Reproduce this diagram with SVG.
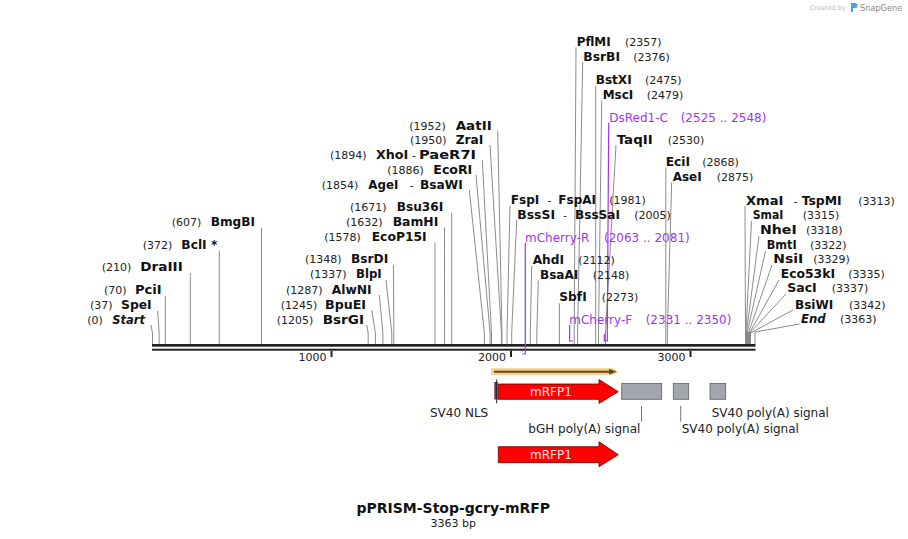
<svg xmlns="http://www.w3.org/2000/svg" width="908" height="539" viewBox="0 0 908 539">
<style>
text{font-family:"DejaVu Sans",Verdana,sans-serif}
.n{font-size:11px;fill:#222}
.b{font-size:12px;font-weight:bold;fill:#111}
.bi{font-size:12px;font-weight:bold;font-style:italic;fill:#111}
.d{font-size:11px;fill:#222}
.p{font-size:12px;fill:#a334e8}
.f{font-size:12px;fill:#222}
.cl{fill:none;stroke:#8c8c8c;stroke-width:1}
.pl{fill:none;stroke:#a334e8;stroke-width:1.2}
.ld{fill:none;stroke:#777;stroke-width:1}
.gray{fill:#a2a6ad;stroke:#5e6066;stroke-width:0.8}
.red{fill:#ff0000;stroke:#6a0000;stroke-width:0.8}
.wt{font-size:12px;fill:#ffe6e6}
</style>

<!-- logo -->
<g id="logo">
<text x="810" y="10" style="font-size:6.5px;fill:#bbb">Created by</text>
<path d="M851,3 h4 a2.5,2.5 0 0 1 0,5 h-2 v4 h-2 z" fill="#4aa3df"/>
<text x="860" y="10.5" style="font-size:8.2px;fill:#8a8a8a">SnapGene</text>
</g>

<!-- backbone -->
<g id="backbone">
<rect x="152" y="344" width="603.5" height="2.7" fill="#222"/>
<rect x="152" y="348.7" width="603.5" height="2" fill="#222"/>
<rect x="330.5" y="350.7" width="2" height="6.3" fill="#222"/>
<rect x="510" y="350.7" width="2" height="6.3" fill="#222"/>
<rect x="689.5" y="350.7" width="2" height="6.3" fill="#222"/>
<text class="d" x="326.5" y="361" text-anchor="end">1000</text>
<text class="d" x="506" y="361" text-anchor="end">2000</text>
<text class="d" x="685.5" y="361" text-anchor="end">3000</text>
<rect x="745" y="332" width="6" height="12" fill="#888"/>
</g>

<!-- connectors -->
<g id="connectors">
<polyline class="cl" points="151,325 152.5,333 152.5,344"/>
<polyline class="cl" points="157.7,311 159.1,333 159.1,344"/>
<polyline class="cl" points="165.3,296 165.3,344"/>
<polyline class="cl" points="190.3,273 190.3,344"/>
<polyline class="cl" points="219.3,250.7 219.3,344"/>
<polyline class="cl" points="261.5,227.7 261.5,344"/>
<polyline class="cl" points="366.7,325 368.2,333 368.2,344"/>
<polyline class="cl" points="371.7,310 375.4,333 375.4,344"/>
<polyline class="cl" points="379.3,295 382.9,333 382.9,344"/>
<polyline class="cl" points="386,280 391.8,333 391.8,344"/>
<polyline class="cl" points="393.5,265 393.8,333 393.8,344"/>
<polyline class="cl" points="435,242.7 435,344"/>
<polyline class="cl" points="444.5,227.3 444.6,344"/>
<polyline class="cl" points="451.7,212.7 451.7,344"/>
<polyline class="cl" points="469.3,190 484.4,333 484.4,344"/>
<polyline class="cl" points="476,175 490.1,333 490.1,344"/>
<polyline class="cl" points="482.3,160 491.5,333 491.5,344"/>
<polyline class="cl" points="490,145 501.4,333 501.4,344"/>
<polyline class="cl" points="497.7,130.7 502,333 502,344"/>
<polyline class="cl" points="510,205.5 507,333 507,344"/>
<polyline class="cl" points="516.7,220 511.7,333 511.7,344"/>
<polyline class="cl" points="531.7,266 530.3,333 530.3,344"/>
<polyline class="cl" points="538.3,280.7 536.8,333 536.8,344"/>
<polyline class="cl" points="559.4,303.3 559.4,344"/>
<polyline class="cl" points="576,47.3 574.2,333 574.2,344"/>
<polyline class="cl" points="582.7,62 577.6,333 577.6,344"/>
<polyline class="cl" points="595.7,86 595.7,344"/>
<polyline class="cl" points="601.7,100.7 598.5,333 598.5,344"/>
<polyline class="cl" points="616,145 605.5,333 605.5,344"/>
<polyline class="cl" points="665.8,167.7 665.8,344"/>
<polyline class="cl" points="671.7,182.7 667.3,333 667.3,344"/>
<polyline class="cl" points="745,206 745.5,333"/>
<polyline class="cl" points="751.5,221 745.9,333"/>
<polyline class="cl" points="759,236 746.4,333"/>
<polyline class="cl" points="765.5,251 747.1,333"/>
<polyline class="cl" points="772,265 748.4,333"/>
<polyline class="cl" points="779,280 749.5,333"/>
<polyline class="cl" points="786,294 749.8,333"/>
<polyline class="cl" points="793,310 750.7,333"/>
<polyline class="cl" points="799.5,324 755,332 755,344"/>
<polyline class="pl" points="608.7,122.7 607.3,333 607.3,341 604.3,341 604.3,334"/>
<polyline class="pl" points="569.6,325 569.6,341 572.8,341"/>
<polyline class="pl" points="525.3,242.7 525.3,354 522.3,354"/>
<line class="ld" x1="641.5" y1="406" x2="641.5" y2="421.7"/>
<line class="ld" x1="680.7" y1="406" x2="680.7" y2="421.7"/>
</g>

<!-- left sites -->
<g id="site-start"><text class="n" x="87.3" y="324">(0)</text><text class="bi" x="112.3" y="324" textLength="32.7" lengthAdjust="spacingAndGlyphs">Start</text></g>
<g id="site-SpeI"><text class="n" x="90" y="309.3">(37)</text><text class="b" x="121" y="309.3" textLength="30.7" lengthAdjust="spacingAndGlyphs">SpeI</text></g>
<g id="site-PciI"><text class="n" x="104" y="294">(70)</text><text class="b" x="135" y="294" textLength="26.7" lengthAdjust="spacingAndGlyphs">PciI</text></g>
<g id="site-DraIII"><text class="n" x="101.7" y="271.3">(210)</text><text class="b" x="140.3" y="271.3" textLength="42.4" lengthAdjust="spacingAndGlyphs">DraIII</text></g>
<g id="site-BclI"><text class="n" x="142.7" y="249">(372)</text><text class="b" x="181.3" y="249" textLength="36" lengthAdjust="spacingAndGlyphs">BclI *</text></g>
<g id="site-BmgBI"><text class="n" x="171.7" y="226.3">(607)</text><text class="b" x="210.7" y="226.3" textLength="44.3" lengthAdjust="spacingAndGlyphs">BmgBI</text></g>

<!-- middle sites -->
<g id="site-AatII"><text class="n" x="409.3" y="129.7">(1952)</text><text class="b" x="455.7" y="129.7" textLength="36" lengthAdjust="spacingAndGlyphs">AatII</text></g>
<g id="site-ZraI"><text class="n" x="410" y="144.3">(1950)</text><text class="b" x="455.7" y="144.3" textLength="27.6" lengthAdjust="spacingAndGlyphs">ZraI</text></g>
<g id="site-XhoI"><text class="n" x="330" y="159">(1894)</text><text class="b" x="376" y="159" textLength="32.3" lengthAdjust="spacingAndGlyphs">XhoI</text><text class="n" x="412" y="159">-</text><text class="b" x="419" y="159" textLength="57" lengthAdjust="spacingAndGlyphs">PaeR7I</text></g>
<g id="site-EcoRI"><text class="n" x="387.3" y="174">(1886)</text><text class="b" x="433.3" y="174" textLength="39" lengthAdjust="spacingAndGlyphs">EcoRI</text></g>
<g id="site-AgeI"><text class="n" x="321.7" y="189">(1854)</text><text class="b" x="368.3" y="189" textLength="30" lengthAdjust="spacingAndGlyphs">AgeI</text><text class="n" x="409.5" y="189">-</text><text class="b" x="420" y="189" textLength="42.7" lengthAdjust="spacingAndGlyphs">BsaWI</text></g>
<g id="site-Bsu36I"><text class="n" x="350" y="211.3">(1671)</text><text class="b" x="396.7" y="211.3" textLength="46.6" lengthAdjust="spacingAndGlyphs">Bsu36I</text></g>
<g id="site-BamHI"><text class="n" x="346" y="226.3">(1632)</text><text class="b" x="392.7" y="226.3" textLength="45.6" lengthAdjust="spacingAndGlyphs">BamHI</text></g>
<g id="site-EcoP15I"><text class="n" x="324.3" y="241.3">(1578)</text><text class="b" x="371.7" y="241.3" textLength="55" lengthAdjust="spacingAndGlyphs">EcoP15I</text></g>
<g id="site-BsrDI"><text class="n" x="305" y="263.3">(1348)</text><text class="b" x="351" y="263.3" textLength="37.3" lengthAdjust="spacingAndGlyphs">BsrDI</text></g>
<g id="site-BlpI"><text class="n" x="310" y="278.3">(1337)</text><text class="b" x="356" y="278.3" textLength="25.7" lengthAdjust="spacingAndGlyphs">BlpI</text></g>
<g id="site-AlwNI"><text class="n" x="286" y="294">(1287)</text><text class="b" x="331.7" y="294" textLength="40" lengthAdjust="spacingAndGlyphs">AlwNI</text></g>
<g id="site-BpuEI"><text class="n" x="280.7" y="308.7">(1245)</text><text class="b" x="325" y="308.7" textLength="41" lengthAdjust="spacingAndGlyphs">BpuEI</text></g>
<g id="site-BsrGI"><text class="n" x="276.7" y="324">(1205)</text><text class="b" x="322.7" y="324" textLength="41.3" lengthAdjust="spacingAndGlyphs">BsrGI</text></g>

<!-- upper sites -->
<g id="site-PflMI"><text class="b" x="576.7" y="45.7" textLength="34" lengthAdjust="spacingAndGlyphs">PflMI</text><text class="n" x="625" y="45.7">(2357)</text></g>
<g id="site-BsrBI"><text class="b" x="583.3" y="60.7" textLength="36.7" lengthAdjust="spacingAndGlyphs">BsrBI</text><text class="n" x="633.3" y="60.7">(2376)</text></g>
<g id="site-BstXI"><text class="b" x="595.7" y="84" textLength="36" lengthAdjust="spacingAndGlyphs">BstXI</text><text class="n" x="645" y="84">(2475)</text></g>
<g id="site-MscI"><text class="b" x="602.7" y="99" textLength="30.6" lengthAdjust="spacingAndGlyphs">MscI</text><text class="n" x="646.7" y="99">(2479)</text></g>
<g id="primer-DsRed1-C"><text class="p" x="609.3" y="121.5">DsRed1-C</text><text class="p" x="680.7" y="121.5">(2525 .. 2548)</text></g>
<g id="site-TaqII"><text class="b" x="616.7" y="144" textLength="36" lengthAdjust="spacingAndGlyphs">TaqII</text><text class="n" x="667.7" y="144">(2530)</text></g>
<g id="site-EciI"><text class="b" x="665.7" y="166" textLength="24.3" lengthAdjust="spacingAndGlyphs">EciI</text><text class="n" x="702.3" y="166">(2868)</text></g>
<g id="site-AseI"><text class="b" x="672.7" y="180.7" textLength="29" lengthAdjust="spacingAndGlyphs">AseI</text><text class="n" x="716.7" y="180.7">(2875)</text></g>
<g id="site-FspI"><text class="b" x="510.7" y="204" textLength="28.6" lengthAdjust="spacingAndGlyphs">FspI</text><text class="n" x="547.5" y="204">-</text><text class="b" x="558.3" y="204" textLength="37.7" lengthAdjust="spacingAndGlyphs">FspAI</text><text class="n" x="609.3" y="204">(1981)</text></g>
<g id="site-BssSI"><text class="b" x="517.3" y="218.7" textLength="37.7" lengthAdjust="spacingAndGlyphs">BssSI</text><text class="n" x="563" y="218.7">-</text><text class="b" x="575" y="218.7" textLength="45" lengthAdjust="spacingAndGlyphs">BssSaI</text><text class="n" x="634.3" y="218.7">(2005)</text></g>
<g id="primer-mCherry-R"><text class="p" x="525" y="241.5">mCherry-R</text><text class="p" x="604" y="241.5">(2063 .. 2081)</text></g>
<g id="site-AhdI"><text class="b" x="532.7" y="264" textLength="31.3" lengthAdjust="spacingAndGlyphs">AhdI</text><text class="n" x="578.3" y="264">(2112)</text></g>
<g id="site-BsaAI"><text class="b" x="540" y="279" textLength="38.3" lengthAdjust="spacingAndGlyphs">BsaAI</text><text class="n" x="592.7" y="279">(2148)</text></g>
<g id="site-SbfI"><text class="b" x="559.3" y="300.7" textLength="27.4" lengthAdjust="spacingAndGlyphs">SbfI</text><text class="n" x="601.7" y="300.7">(2273)</text></g>
<g id="primer-mCherry-F"><text class="p" x="569.3" y="323.5">mCherry-F</text><text class="p" x="645.7" y="323.5">(2331 .. 2350)</text></g>

<!-- right sites -->
<g id="site-XmaI"><text class="b" x="746" y="204.7" textLength="37.3" lengthAdjust="spacingAndGlyphs">XmaI</text><text class="n" x="793.5" y="204.7">-</text><text class="b" x="801.7" y="204.7" textLength="40" lengthAdjust="spacingAndGlyphs">TspMI</text><text class="n" x="858.3" y="204.7">(3313)</text></g>
<g id="site-SmaI"><text class="b" x="752.7" y="219" textLength="30.6" lengthAdjust="spacingAndGlyphs">SmaI</text><text class="n" x="802.7" y="219">(3315)</text></g>
<g id="site-NheI"><text class="b" x="760" y="234" textLength="36.7" lengthAdjust="spacingAndGlyphs">NheI</text><text class="n" x="806" y="234">(3318)</text></g>
<g id="site-BmtI"><text class="b" x="766.7" y="249" textLength="30" lengthAdjust="spacingAndGlyphs">BmtI</text><text class="n" x="810" y="249">(3322)</text></g>
<g id="site-NsiI"><text class="b" x="773.3" y="263.3" textLength="30" lengthAdjust="spacingAndGlyphs">NsiI</text><text class="n" x="813.3" y="263.3">(3329)</text></g>
<g id="site-Eco53kI"><text class="b" x="780.7" y="278" textLength="54.3" lengthAdjust="spacingAndGlyphs">Eco53kI</text><text class="n" x="848.3" y="278">(3335)</text></g>
<g id="site-SacI"><text class="b" x="787.3" y="292.3" textLength="29.4" lengthAdjust="spacingAndGlyphs">SacI</text><text class="n" x="831.7" y="292.3">(3337)</text></g>
<g id="site-BsiWI"><text class="b" x="795" y="309" textLength="38.3" lengthAdjust="spacingAndGlyphs">BsiWI</text><text class="n" x="849" y="309">(3342)</text></g>
<g id="site-end"><text class="bi" x="801" y="323.3" textLength="24.7" lengthAdjust="spacingAndGlyphs">End</text><text class="n" x="840" y="323.3">(3363)</text></g>

<!-- features -->
<g id="orf">
<polygon points="491,368.3 613,368.3 618.5,371.7 613,375 491,375" fill="#f9cf8a"/>
<line x1="494" y1="371.7" x2="611" y2="371.7" stroke="#5c4a2c" stroke-width="2"/>
<polygon points="609,368.8 616.5,371.7 609,374.6" fill="#5c4a2c"/>
</g>
<g id="feat-SV40-NLS">
<rect x="494.3" y="382" width="3.4" height="17.5" fill="#7b2f55"/>
<line x1="496.7" y1="379.5" x2="496.7" y2="403.3" stroke="#222" stroke-width="1"/>
<text class="f" x="430" y="416.5">SV40 NLS</text>
</g>
<g id="feat-mRFP1">
<polygon class="red" points="498.3,384 599,384 599,379.5 618.3,391.7 599,403.5 599,399.3 498.3,399.3"/>
<text class="wt" x="551" y="396" text-anchor="middle">mRFP1</text>
</g>
<g id="feat-bGH">
<rect class="gray" x="621.7" y="383.5" width="40" height="15.8"/>
<text class="f" x="528.3" y="433">bGH poly(A) signal</text>
</g>
<g id="feat-SV40pA-1">
<rect class="gray" x="673.3" y="383.5" width="15.4" height="15.8"/>
<text class="f" x="681.7" y="433">SV40 poly(A) signal</text>
</g>
<g id="feat-SV40pA-2">
<rect class="gray" x="710" y="383.5" width="15.7" height="15.8"/>
<text class="f" x="711.7" y="416.5">SV40 poly(A) signal</text>
</g>
<g id="feat-mRFP1-2">
<polygon class="red" points="498.3,446.7 599,446.7 599,441.7 618.3,454.7 599,466.7 599,462.7 498.3,462.7"/>
<text class="wt" x="551" y="459" text-anchor="middle">mRFP1</text>
</g>

<g id="title">
<text x="453.3" y="513" text-anchor="middle" style="font-size:14px;font-weight:bold;fill:#111">pPRISM-Stop-gcry-mRFP</text>
<text x="453.3" y="527.3" text-anchor="middle" style="font-size:11px;fill:#222">3363 bp</text>
</g>
</svg>
